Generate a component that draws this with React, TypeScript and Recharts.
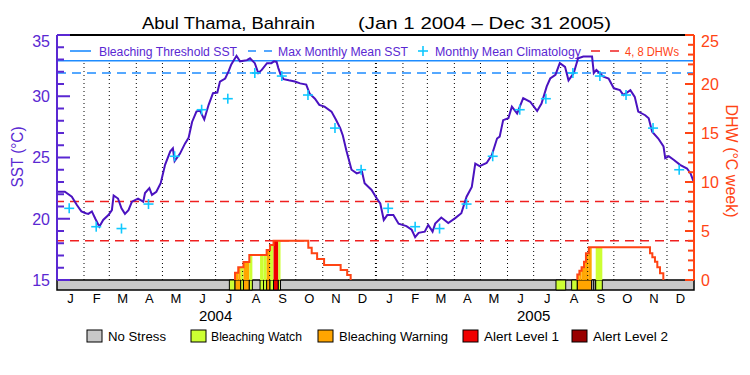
import React from 'react';
import { ComposedChart, Line, Scatter, XAxis, YAxis, ReferenceLine, ReferenceArea } from 'recharts';

// ---------- data ----------
const yearLabels = ['2004', '2005'];
const monthLetters = ['J', 'F', 'M', 'A', 'M', 'J', 'J', 'A', 'S', 'O', 'N', 'D'];
const monthLengths = [31, 29, 31, 30, 31, 30, 31, 31, 30, 31, 30, 31, 31, 28, 31, 30, 31, 30, 31, 31, 30, 31, 30, 31];

const sstDays = [0, 9, 17, 23, 28, 33, 36, 40, 44, 48.6, 53, 59, 63, 65, 70, 74, 78, 82, 86, 93, 99, 101, 106, 109, 114, 119, 124, 130, 133, 135, 141, 147, 151, 155, 160, 164, 167, 169, 174, 179, 184, 187, 193, 197, 200, 206, 210, 214, 218, 221.5, 227, 231, 235, 241, 246, 249, 252, 254, 257, 260, 266, 273, 279, 286, 290, 296, 301, 307, 315, 320, 325, 328, 332, 338, 344, 350, 353, 361, 367, 371, 375, 379, 386, 392, 401, 407, 411, 415, 422, 426, 431, 434, 441, 449, 457, 464, 470, 476, 480, 485, 493, 499, 505, 508, 512, 518, 522, 528, 535, 543, 551, 556, 562, 566, 572, 577, 583, 587, 593, 598, 604, 614, 616, 619, 627, 633, 639, 646, 650, 658, 663, 667, 675, 679, 683, 690, 696, 698, 702, 708, 715, 723, 727, 731];
const sstValues = [22.2, 22.2, 21.8, 21.1, 20.6, 20.45, 20.4, 20.6, 20.0, 19.35, 19.9, 20.3, 20.7, 21.9, 21.65, 20.85, 20.4, 20.7, 21.4, 21.65, 21.4, 22.1, 22.5, 21.95, 22.2, 22.9, 24.4, 25.5, 25.75, 24.7, 25.3, 26.15, 26.6, 27.9, 28.75, 28.85, 28.4, 28.1, 29.3, 30.25, 30.3, 31.2, 31.45, 32.05, 32.6, 33.3, 32.85, 32.9, 32.95, 33.1, 32.7, 31.9, 32.15, 32.7, 32.7, 32.85, 32.8, 32.3, 31.7, 31.4, 31.3, 31.2, 31.05, 30.95, 30.2, 29.8, 29.3, 29.15, 28.75, 28.1, 27.4, 26.8, 25.6, 24.0, 23.7, 23.85, 22.9, 22.35, 21.65, 21.25, 19.9, 20.3, 20.3, 19.6, 19.4, 19.1, 18.5, 18.85, 18.95, 19.5, 18.95, 19.6, 20.1, 19.65, 20.05, 20.45, 21.8, 22.6, 24.5, 24.3, 24.55, 25.2, 26.55, 26.7, 28.05, 28.2, 29.15, 28.6, 29.85, 29.55, 28.8, 29.4, 30.8, 31.45, 31.75, 32.7, 32.4, 31.3, 31.9, 33.1, 33.25, 33.25, 31.9, 32.15, 31.6, 31.45, 30.65, 30.5, 30.1, 30.5, 29.95, 28.75, 28.45, 28.2, 27.1, 26.55, 25.9, 24.95, 25.1, 24.8, 24.4, 24.1, 23.7, 22.95];

const climatology = [20.85, 19.35, 19.2, 21.2, 25.1, 28.9, 29.8, 31.9, 31.65, 30.1, 27.4, 24.0];
const thresholdSST = 32.9;
const mmmSST = 31.9;
const dhwMarks = [4, 8];

const dhwDays = [204.3, 204.3, 208, 214, 220.7, 240.6, 244.4, 248.5, 288.4, 292.3, 298.5, 306.5, 325.5, 333, 337, 450, 597.1, 597.1, 599.5, 602, 604.8, 607, 610.3, 680.5, 683.2, 686.2, 688.9, 692, 695.8];
const dhwValues: (number | null)[] = [0, 0.75, 1.29, 1.84, 2.55, 3.06, 3.57, 4.01, 3.3, 2.72, 2.15, 1.53, 1.02, 0.51, 0, null, 0, 0.55, 0.95, 1.29, 1.85, 2.72, 3.33, 2.72, 2.31, 1.87, 1.29, 0.68, 0];

const stressStart = [197.8, 204.3, 210.8, 214, 220.7, 233, 237, 240.6, 244.4, 248.5, 254, 572.6, 590.6, 597.1, 613.6, 616, 618.2];
const stressEnd = [204.3, 210.8, 214, 220.7, 224.2, 237, 240.6, 244.4, 248.5, 254, 256.5, 583.8, 597.1, 613.6, 616, 618.2, 625.8];
const stressLevel = [1, 2, 1, 2, 1, 1, 1, 2, 1, 3, 1, 1, 1, 2, 0, 0, 1];

const stressColors = ['#c8c8c8', '#ccff33', '#ffa500', '#f00000', '#990000'];
const stressNames = ['No Stress', 'Bleaching Watch', 'Bleaching Warning', 'Alert Level 1', 'Alert Level 2'];

const sstTicks = [15, 16, 17, 18, 19, 20, 21, 22, 23, 24, 25, 26, 27, 28, 29, 30, 31, 32, 33, 34, 35];
const dhwTicks = [0, 1, 2, 3, 4, 5, 6, 7, 8, 9, 10, 11, 12, 13, 14, 15, 16, 17, 18, 19, 20, 21, 22, 23, 24, 25];

// ---------- derived ----------
const monthStarts: number[] = [];
monthLengths.reduce((acc, len) => { monthStarts.push(acc); return acc + len; }, 0);
const totalDays = monthLengths.reduce((a, b) => a + b, 0);
const monthCenters = monthStarts.map((s, i) => s + monthLengths[i] / 2);
const yearCenters = [monthStarts[6], monthStarts[18]];
const monthBounds = monthStarts.slice(1);

const sstData = sstDays.map((x, i) => ({ x, sst: sstValues[i] }));
const climData = monthStarts.map((s, i) => ({ x: s + 14, clim: climatology[i % 12] }));
const dhwData = dhwDays.map((x, i) => ({ x, dhw: dhwValues[i] }));

const dhwAt = (d: number) => {
  let v = 0;
  for (let i = 0; i < dhwDays.length; i++) {
    if (dhwValues[i] === null) continue;
    if (dhwDays[i] <= d) v = dhwValues[i] as number;
  }
  return v;
};

const fillPieces: { a: number; b: number; v: number; level: number }[] = [];
stressStart.forEach((s, i) => {
  const e = stressEnd[i];
  const lvl = stressLevel[i];
  if (lvl === 0) return;
  const bps = [s, ...dhwDays.filter((t) => t > s && t < e), e];
  for (let k = 0; k < bps.length - 1; k++) {
    const a = bps[k];
    const b = bps[k + 1];
    if (b <= a) continue;
    const v = dhwAt((a + b) / 2);
    if (v > 0) fillPieces.push({ a, b, v, level: lvl });
  }
});

// ---------- layout / style ----------
const SST_MAX = 35;
const SST_MIN = 15 - (20 * 10) / 245;
const DHW_MAX = 25;
const DHW_MIN = -(25 * 10) / 245;

const PURPLE = '#5a28d2';
const SSTLINE = '#4a12c0';
const ORANGE = '#ff4414';
const BLUE = '#1e8cff';
const CYAN = '#10c8ff';
const RED = '#f02020';
const FONT = 'Liberation Sans, Arial, sans-serif';

const LeftTick = (props: any) => {
  const { x, y, payload } = props;
  const v = payload.value;
  const major = v % 5 === 0;
  return (
    <g>
      <line x1={x} x2={x + (major ? 13 : 7)} y1={y} y2={y} stroke={PURPLE} strokeWidth={2} />
      {major && (
        <text x={x - 7} y={y + (v === 35 ? 6 : 0)} dy="0.36em" textAnchor="end" fontSize={16} fill={PURPLE} fontFamily={FONT}>
          {v}
        </text>
      )}
    </g>
  );
};

const RightTick = (props: any) => {
  const { x, y, payload } = props;
  const v = payload.value;
  const major = v % 5 === 0;
  return (
    <g>
      <line x1={x - (major ? 9 : 6)} x2={x} y1={y} y2={y} stroke={ORANGE} strokeWidth={2} />
      {major && (
        <text x={x + 7} y={y + (v === 25 ? 6 : 0)} dy="0.36em" textAnchor="start" fontSize={16} fill={ORANGE} fontFamily={FONT}>
          {v}
        </text>
      )}
    </g>
  );
};

const MonthTick = (props: any) => {
  const { x, y, index } = props;
  return (
    <text x={x} y={y + 12.5} textAnchor="middle" fontSize={13} fill="#000" fontFamily={FONT}>
      {monthLetters[index % 12]}
    </text>
  );
};

const YearTick = (props: any) => {
  const { x, y, index } = props;
  return (
    <text x={x} y={y + 11} textAnchor="middle" fontSize={15} fill="#000" fontFamily={FONT}>
      {yearLabels[index]}
    </text>
  );
};

const PlusShape = (props: any) => {
  const { cx, cy } = props;
  if (cx == null || cy == null) return null;
  return (
    <g>
      <line x1={cx - 5} x2={cx + 5} y1={cy} y2={cy} stroke={CYAN} strokeWidth={1.6} />
      <line x1={cx} x2={cx} y1={cy - 5} y2={cy + 5} stroke={CYAN} strokeWidth={1.6} />
    </g>
  );
};

export default function App() {
  const legendItems = [
    { boxX: 87, textX: 108, w: 58 },
    { boxX: 191, textX: 211, w: 91 },
    { boxX: 318, textX: 339, w: 109 },
    { boxX: 463, textX: 484, w: 75 },
    { boxX: 572, textX: 593, w: 75 },
  ];
  return (
    <div style={{ position: 'absolute', left: 0, top: 0, width: 750, height: 375, background: '#fff' }}>
      <ComposedChart width={750} height={375} margin={{ top: 35, right: 0, bottom: 45, left: 0 }}>
        <XAxis
          dataKey="x"
          type="number"
          domain={[0, totalDays]}
          allowDataOverflow
          ticks={monthCenters}
          interval={0}
          tick={<MonthTick />}
          tickLine={false}
          axisLine={false}
          tickSize={0}
          tickMargin={0}
          height={20}
        />
        <XAxis
          xAxisId="year"
          dataKey="x"
          type="number"
          domain={[0, totalDays]}
          allowDataOverflow
          ticks={yearCenters}
          interval={0}
          tick={<YearTick />}
          tickLine={false}
          axisLine={false}
          tickSize={0}
          tickMargin={0}
          height={20}
        />
        <YAxis
          yAxisId="sst"
          orientation="left"
          type="number"
          domain={[SST_MIN, SST_MAX]}
          allowDataOverflow
          ticks={sstTicks}
          interval={0}
          tick={<LeftTick />}
          tickLine={false}
          axisLine={false}
          tickSize={0}
          tickMargin={0}
          width={57}
        />
        <YAxis
          yAxisId="dhw"
          orientation="right"
          type="number"
          domain={[DHW_MIN, DHW_MAX]}
          allowDataOverflow
          ticks={dhwTicks}
          interval={0}
          tick={<RightTick />}
          tickLine={false}
          axisLine={false}
          tickSize={0}
          tickMargin={0}
          width={56}
        />

        {/* stress strip */}
        <ReferenceArea yAxisId="dhw" x1={0} x2={totalDays} y1={DHW_MIN} y2={0} fill={stressColors[0]} fillOpacity={1} stroke="#000" strokeWidth={1.5} ifOverflow="visible" />
        {stressStart.map((s, i) => (
          <ReferenceArea
            key={'c' + i}
            yAxisId="dhw"
            x1={s}
            x2={stressEnd[i]}
            y1={DHW_MIN}
            y2={0}
            fill={stressColors[stressLevel[i]]}
            fillOpacity={1}
            stroke="#000"
            strokeWidth={1}
            ifOverflow="visible"
          />
        ))}
        {/* DHW fills coloured by stress level */}
        {fillPieces.map((p, i) => (
          <ReferenceArea
            key={'f' + i}
            yAxisId="dhw"
            x1={p.a}
            x2={p.b}
            y1={0}
            y2={p.v}
            fill={stressColors[p.level]}
            fillOpacity={1}
            stroke="none"
            ifOverflow="visible"
          />
        ))}

        {/* month boundaries */}
        {monthBounds.map((d, i) => (
          <ReferenceLine
            key={'m' + i}
            yAxisId="sst"
            segment={[{ x: d, y: 15 }, { x: d, y: thresholdSST }]}
            stroke="#000"
            strokeWidth={i === 11 ? 2 : 1}
            strokeDasharray="1 3"
            ifOverflow="visible"
          />
        ))}

        <ReferenceLine yAxisId="sst" y={thresholdSST} stroke={BLUE} strokeWidth={1.6} />
        <ReferenceLine yAxisId="sst" y={mmmSST} stroke={BLUE} strokeWidth={1.6} strokeDasharray="9 6" />
        {dhwMarks.map((m) => (
          <ReferenceLine key={'d' + m} yAxisId="dhw" y={m} stroke={RED} strokeWidth={1.5} strokeDasharray="9 6" />
        ))}

        <Line
          yAxisId="dhw"
          data={dhwData}
          dataKey="dhw"
          type="stepAfter"
          stroke={ORANGE}
          strokeWidth={2}
          dot={false}
          connectNulls={false}
          isAnimationActive={false}
        />
        <Line
          yAxisId="sst"
          data={sstData}
          dataKey="sst"
          type="linear"
          stroke={SSTLINE}
          strokeWidth={2}
          dot={false}
          isAnimationActive={false}
        />
        <Scatter yAxisId="sst" data={climData} dataKey="clim" shape={<PlusShape />} isAnimationActive={false} />

        {/* frame */}
        <ReferenceLine yAxisId="sst" y={SST_MAX} stroke="#000" strokeWidth={2} />
        <ReferenceLine yAxisId="sst" segment={[{ x: 0, y: 15 }, { x: 0, y: SST_MAX }]} stroke={PURPLE} strokeWidth={2} ifOverflow="visible" />
        <ReferenceLine yAxisId="dhw" segment={[{ x: totalDays, y: 0 }, { x: totalDays, y: DHW_MAX }]} stroke={ORANGE} strokeWidth={2} ifOverflow="visible" />
      </ComposedChart>

      <svg width={750} height={375} style={{ position: 'absolute', left: 0, top: 0, pointerEvents: 'none' }} fontFamily={FONT}>
        {/* title */}
        <text x={142} y={29} fontSize={17} fill="#000" textLength={173} lengthAdjust="spacingAndGlyphs">Abul Thama, Bahrain</text>
        <text x={358} y={29} fontSize={17} fill="#000" textLength={253} lengthAdjust="spacingAndGlyphs">(Jan 1 2004 – Dec 31 2005)</text>

        {/* top legend */}
        <line x1={70} x2={91} y1={51} y2={51} stroke={BLUE} strokeWidth={1.6} />
        <text x={99} y={55.5} fontSize={12} fill={PURPLE} textLength={138} lengthAdjust="spacingAndGlyphs">Bleaching Threshold SST</text>
        <line x1={248} x2={272} y1={51} y2={51} stroke={BLUE} strokeWidth={1.6} strokeDasharray="8 8" />
        <text x={278} y={55.5} fontSize={12} fill={PURPLE} textLength={130} lengthAdjust="spacingAndGlyphs">Max Monthly Mean SST</text>
        <line x1={418} x2={428} y1={51} y2={51} stroke={CYAN} strokeWidth={1.6} />
        <line x1={423} x2={423} y1={46} y2={56} stroke={CYAN} strokeWidth={1.6} />
        <text x={435} y={55.5} fontSize={12} fill={PURPLE} textLength={146} lengthAdjust="spacingAndGlyphs">Monthly Mean Climatology</text>
        <line x1={591} x2={620} y1={51} y2={51} stroke={RED} strokeWidth={1.5} strokeDasharray="9 10" />
        <text x={625} y={55.5} fontSize={12} fill={ORANGE} textLength={54} lengthAdjust="spacingAndGlyphs">4, 8 DHWs</text>

        {/* axis titles */}
        <text x={17} y={157} fontSize={16} fill={PURPLE} textAnchor="middle" dominantBaseline="central" transform="rotate(-90 17 157)" textLength={61} lengthAdjust="spacingAndGlyphs">SST (°C)</text>
        <text x={731} y={161} fontSize={16} fill={ORANGE} textAnchor="middle" dominantBaseline="central" transform="rotate(90 731 161)" textLength={113} lengthAdjust="spacingAndGlyphs">DHW (°C week)</text>

        {/* bottom legend */}
        {legendItems.map((it, i) => (
          <g key={'l' + i}>
            <rect x={it.boxX} y={330} width={15} height={12} fill={stressColors[i]} stroke="#000" strokeWidth={1} />
            <text x={it.textX} y={340.5} fontSize={12.5} fill="#000" textLength={it.w} lengthAdjust="spacingAndGlyphs">{stressNames[i]}</text>
          </g>
        ))}
      </svg>
    </div>
  );
}
